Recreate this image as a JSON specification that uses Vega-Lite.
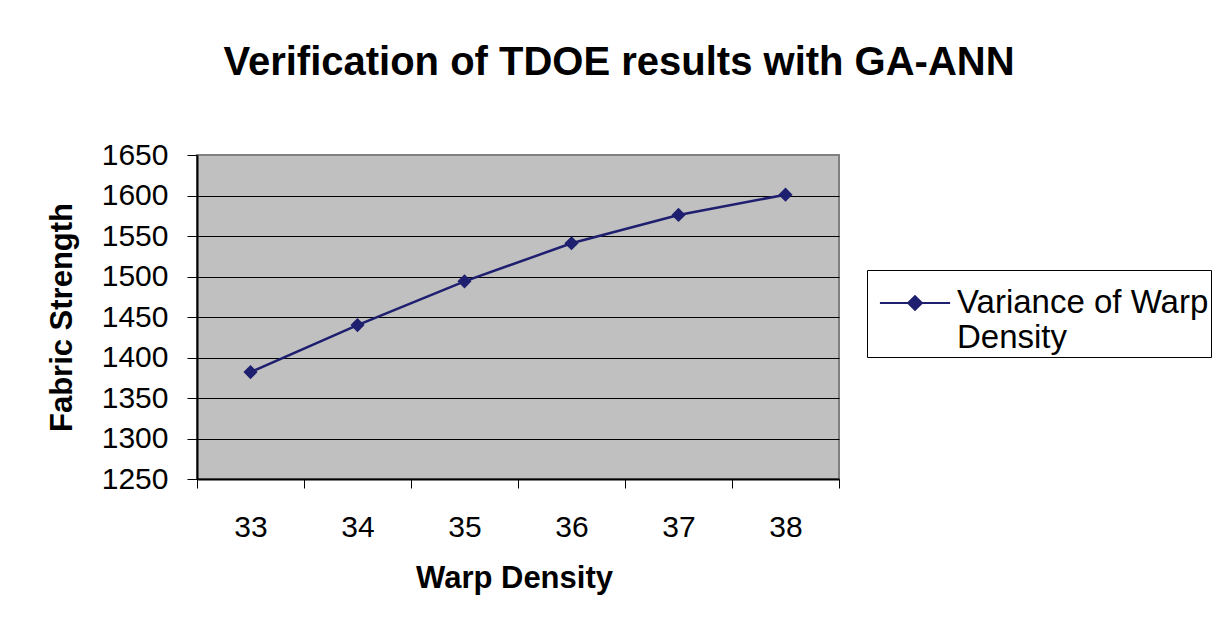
{
  "$schema": "https://vega.github.io/schema/vega-lite/v6.json",
  "width": 642,
  "height": 324,
  "autosize": {"type": "none"},
  "padding": {"left": 197, "top": 155, "right": 383, "bottom": 145},
  "background": "white",
  "view": {"fill": "#C0C0C0", "stroke": "#808080", "strokeWidth": 2},
  "config": {"font": "Liberation Sans"},
  "title": {
    "text": "Verification of TDOE results with GA-ANN",
    "font": "Liberation Sans",
    "fontSize": 40,
    "fontWeight": "bold",
    "color": "black",
    "anchor": "middle",
    "frame": "group",
    "dx": 101,
    "baseline": "alphabetic",
    "offset": 25
  },
  "data": {
    "values": [
      {"density": 33, "strength": 1382, "series": "Variance of Warp Density"},
      {"density": 34, "strength": 1440, "series": "Variance of Warp Density"},
      {"density": 35, "strength": 1494, "series": "Variance of Warp Density"},
      {"density": 36, "strength": 1541, "series": "Variance of Warp Density"},
      {"density": 37, "strength": 1576, "series": "Variance of Warp Density"},
      {"density": 38, "strength": 1601, "series": "Variance of Warp Density"}
    ]
  },
  "encoding": {
    "x": {
      "field": "density",
      "type": "ordinal",
      "scale": {"type": "band", "paddingInner": 0, "paddingOuter": 0},
      "axis": {
        "tickBand": "extent",
        "ticks": true,
        "tickSize": 9,
        "tickColor": "black",
        "tickWidth": 1,
        "domainColor": "black",
        "domainWidth": 2,
        "grid": false,
        "labelAngle": 0,
        "labelFont": "Liberation Sans",
        "labelFontSize": 30,
        "labelColor": "black",
        "labelPadding": 24,
        "title": "Warp Density",
        "titleFont": "Liberation Sans",
        "titleFontSize": 31,
        "titleFontWeight": "bold",
        "titleColor": "black",
        "titleX": 317,
        "titleY": 108,
        "titleBaseline": "alphabetic"
      }
    },
    "y": {
      "field": "strength",
      "type": "quantitative",
      "scale": {"domain": [1250, 1650], "nice": false, "zero": false},
      "axis": {
        "values": [1250, 1300, 1350, 1400, 1450, 1500, 1550, 1600, 1650],
        "format": "d",
        "grid": true,
        "gridColor": {"condition": {"test": "datum.value == 1650", "value": "#808080"}, "value": "black"},
        "gridWidth": 1,
        "gridOpacity": 1,
        "tickSize": 10,
        "tickColor": "black",
        "domainColor": "black",
        "domainWidth": 2,
        "labelFont": "Liberation Sans",
        "labelFontSize": 30,
        "labelColor": "black",
        "labelPadding": 19,
        "title": "Fabric Strength",
        "titleFont": "Liberation Sans",
        "titleFontSize": 31,
        "titleFontWeight": "bold",
        "titleColor": "black",
        "titleAngle": -90,
        "titleX": -135,
        "titleY": 162,
        "titleBaseline": "middle",
        "titleAlign": "center"
      }
    },
    "color": {
      "field": "series",
      "type": "nominal",
      "scale": {"range": ["#1F1F70"]},
      "legend": {
        "orient": "none",
        "legendX": 670,
        "legendY": 115,
        "title": null,
        "strokeColor": "black",
        "fillColor": "white",
        "padding": 2,
        "symbolType": "M-0.67,0H1.67M0.27,0L0.5,-0.23L0.73,0L0.5,0.23Z",
        "symbolSize": 3600,
        "symbolStrokeWidth": 2,
        "symbolFillColor": "#1F1F70",
        "symbolStrokeColor": "#1F1F70",
        "labelExpr": "['Variance of Warp', 'Density']",
        "labelFont": "Liberation Sans",
        "labelFontSize": 33,
        "labelColor": "black",
        "labelLimit": 400,
        "labelOffset": 26
      }
    }
  },
  "layer": [
    {"mark": {"type": "line", "strokeWidth": 2.5}},
    {"mark": {"type": "point", "shape": "diamond", "filled": true, "size": 200, "opacity": 1}}
  ]
}
